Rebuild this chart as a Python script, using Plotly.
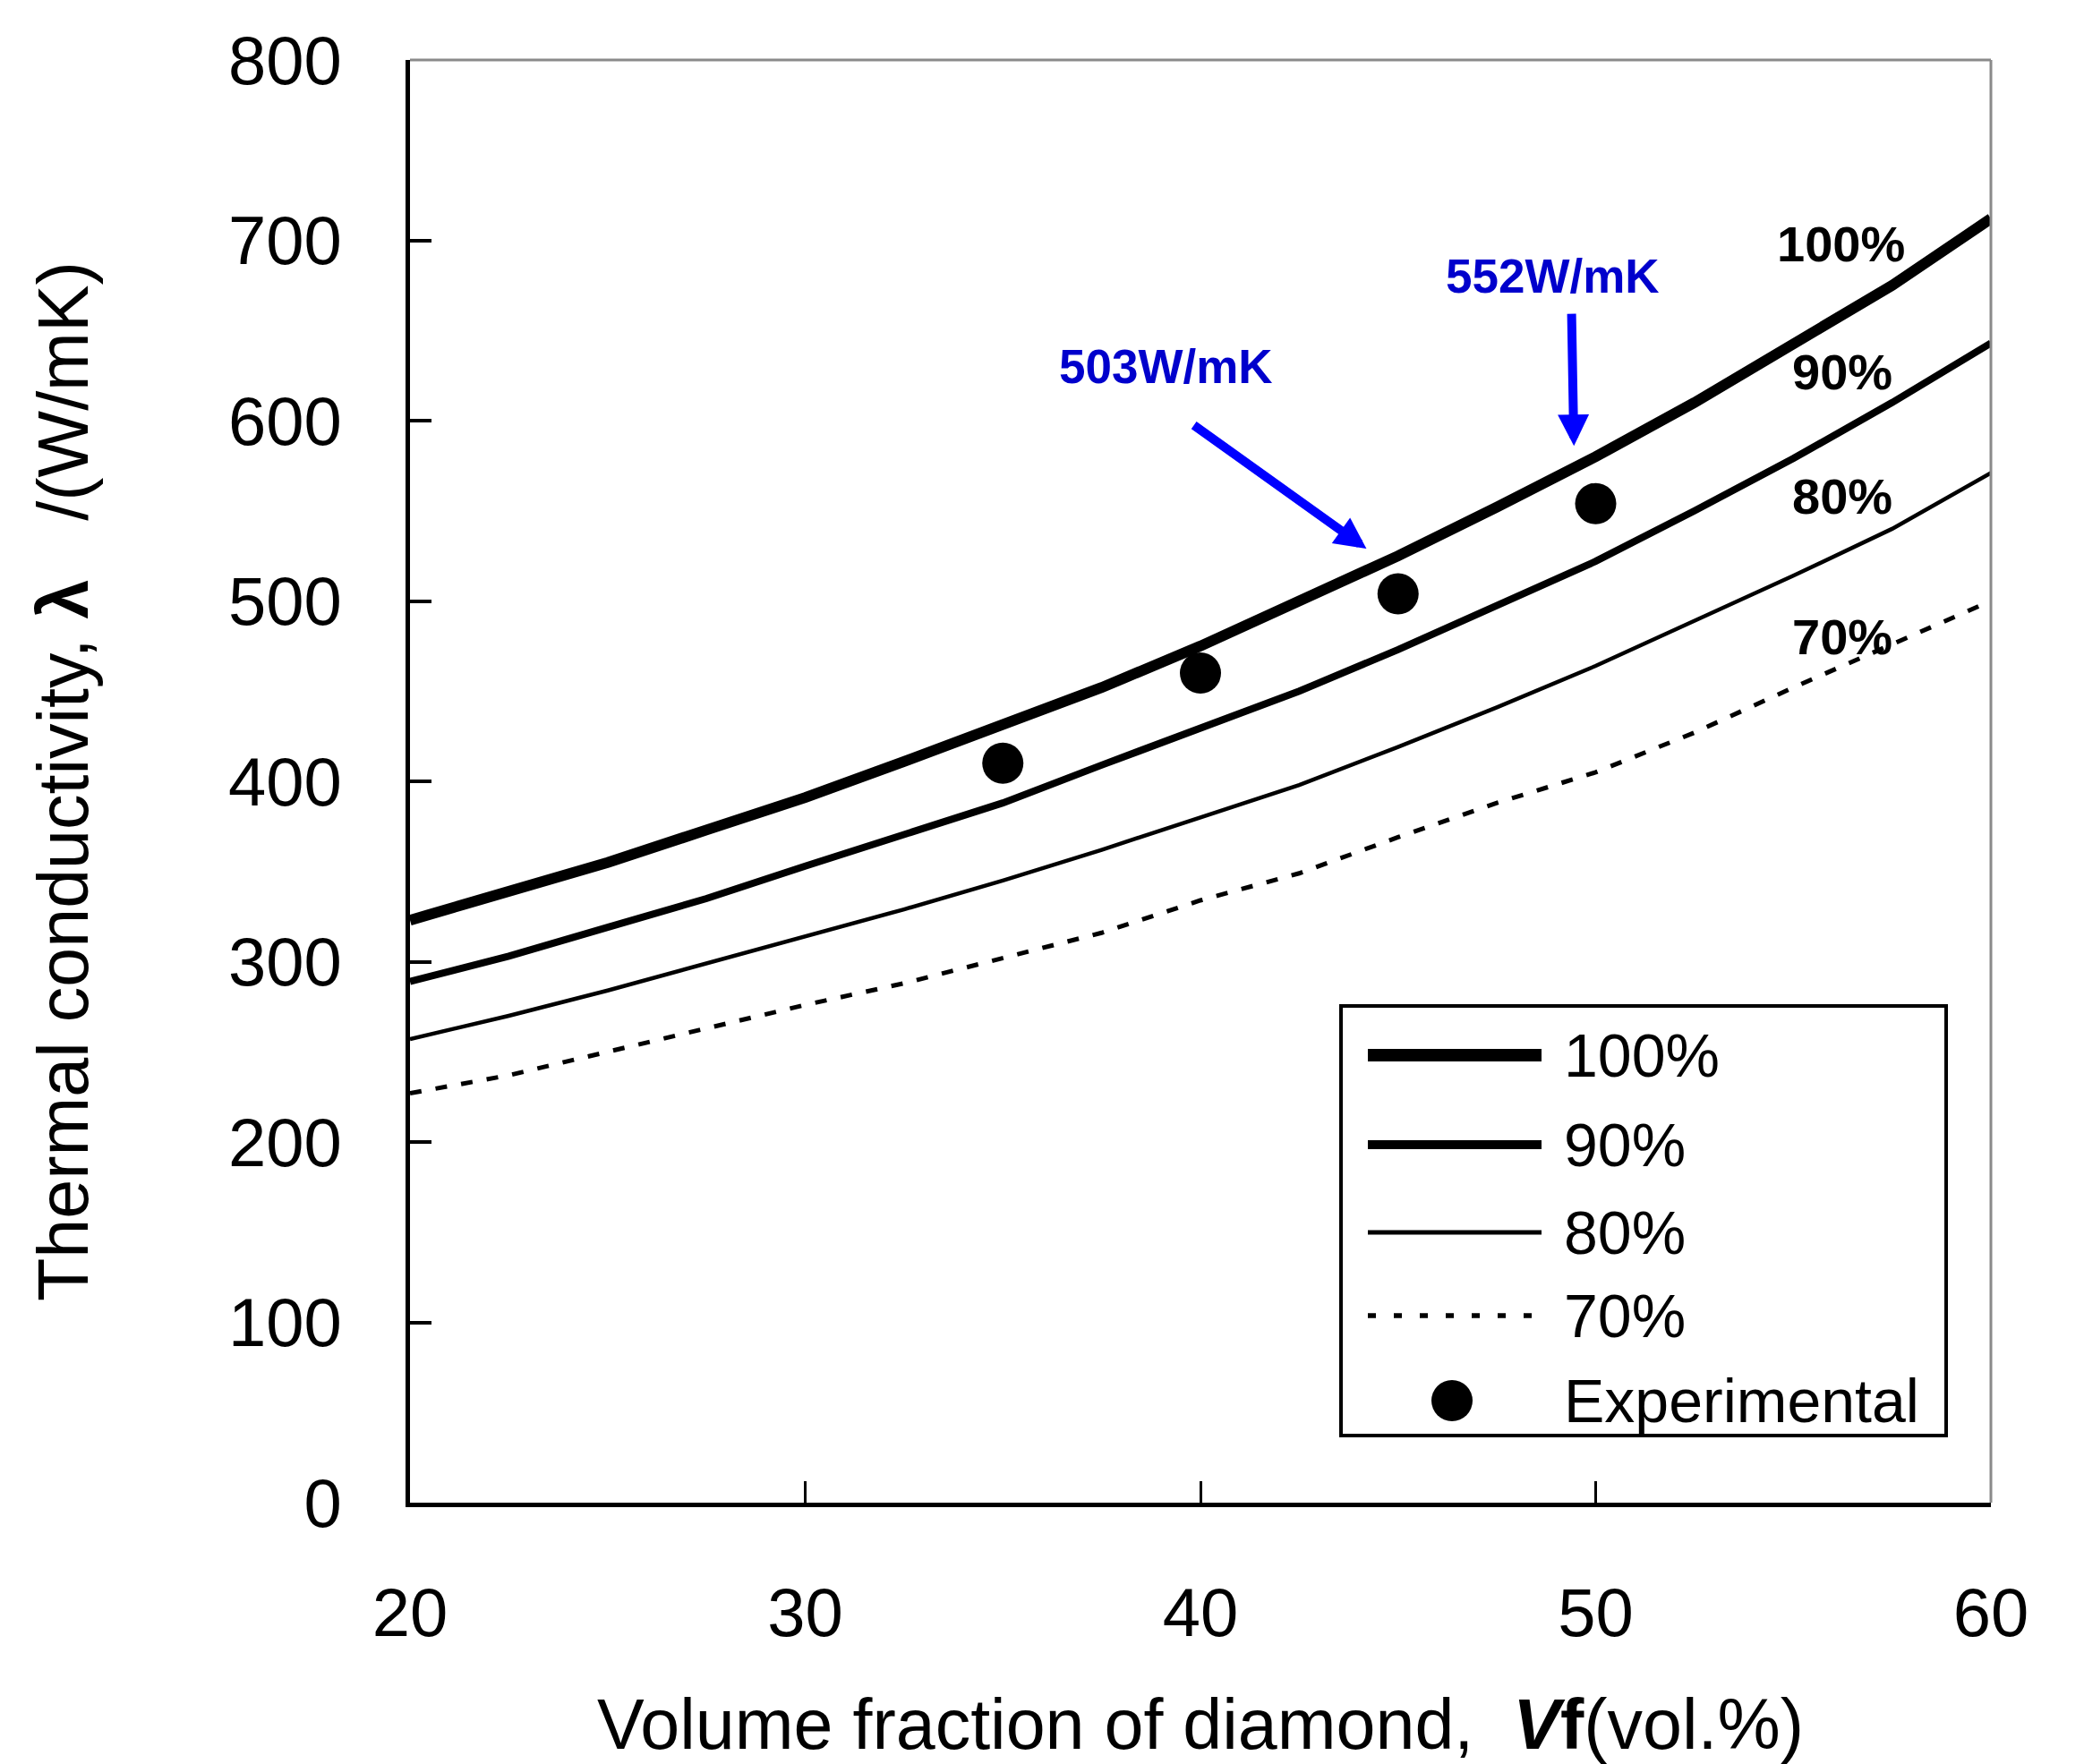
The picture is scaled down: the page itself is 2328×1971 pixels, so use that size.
import plotly.graph_objects as go

# ---------------- data ----------------
vf = [20, 22.5, 25, 27.5, 30, 32.5, 35, 37.5, 40, 42.5, 45, 47.5, 50, 52.5, 55, 57.5, 60]
k100 = [323, 339, 355, 373, 391, 411, 431, 452, 475, 500, 525, 552, 580, 610, 642, 675, 712]
k90 = [289, 303, 319, 335, 353, 370, 388, 409, 429, 450, 473, 498, 522, 550, 579, 610, 643]
k80 = [257, 270, 284, 299, 314, 329, 345, 362, 380, 398, 419, 441, 464, 489, 514, 540, 571]
k70 = [227, 237, 250, 263, 276, 288, 302, 316, 334, 349, 369, 388, 405, 427, 452, 476, 500]
exp_vf = [35, 40, 45, 50]
exp_k = [410, 460, 504, 554]

series_names = ["100%", "90%", "80%", "70%"]
x_ticks = [20, 30, 40, 50, 60]
y_ticks = [0, 100, 200, 300, 400, 500, 600, 700, 800]

# page body has an 8px margin; the figure is sized so it fits the window
OFF = 8
W, H = 2328 - OFF, 1971 - OFF
ML, MR, MT, MB = 458 - OFF, 104, 67 - OFF, 292
PW, PH = W - ML - MR, H - MT - MB
FONT = "Liberation Sans, Arial, sans-serif"


def px(x):
    """page pixel x -> paper fraction"""
    return (x - OFF - ML) / PW


def py(y):
    """page pixel y -> paper fraction"""
    return (H - MB - (y - OFF)) / PH


fig = go.Figure()
styles = [
    dict(width=12, dash="solid"),
    dict(width=8, dash="solid"),
    dict(width=4.5, dash="solid"),
    dict(width=5, dash="13px,16px"),
]
for name, ys, st in zip(series_names, [k100, k90, k80, k70], styles):
    fig.add_trace(go.Scatter(x=vf, y=ys, mode="lines", name=name,
                             line=dict(color="black", width=st["width"], dash=st["dash"]),
                             showlegend=False))
fig.add_trace(go.Scatter(x=exp_vf, y=exp_k, mode="markers", name="Experimental",
                         marker=dict(color="black", size=46), showlegend=False))

fig.update_layout(
    width=W, height=H,
    margin=dict(l=ML, r=MR, t=MT, b=MB, autoexpand=False),
    paper_bgcolor="white", plot_bgcolor="white",
    font=dict(family=FONT, color="black"),
    showlegend=False,
)
fig.update_xaxes(
    range=[20, 60], tickvals=x_ticks, showgrid=False, zeroline=False,
    showline=True, linecolor="black", linewidth=5, automargin=False,
    ticks="inside", ticklen=24, tickwidth=3, tickcolor="black",
    tickfont=dict(size=76, family=FONT), ticklabelstandoff=53,
    title=dict(text="Volume fraction of diamond,  <b><i>V</i>f</b>(vol.%)",
               font=dict(size=79, family=FONT), standoff=58),
)
fig.update_yaxes(
    range=[0, 800], tickvals=y_ticks, showgrid=False, zeroline=False,
    showline=True, linecolor="black", linewidth=5, automargin=False,
    ticks="inside", ticklen=24, tickwidth=4, tickcolor="black",
    tickfont=dict(size=76, family=FONT), ticklabelstandoff=56,
    title=dict(text="Thermal conductivity, <b>λ</b>   /(W/mK)",
               font=dict(size=79, family=FONT), standoff=132),
)

shapes = [
    dict(type="line", xref="paper", yref="paper", x0=0, x1=1, y0=1, y1=1,
         line=dict(color="#8a8a8a", width=3)),
    dict(type="line", xref="paper", yref="paper", x0=1, x1=1, y0=0, y1=1,
         line=dict(color="#8a8a8a", width=3)),
]

# ---------- legend (drawn manually) ----------
leg_rows = [1179, 1279, 1377, 1470, 1565]
leg_labels = series_names + ["Experimental"]
shapes.append(dict(type="rect", xref="paper", yref="paper",
                   x0=px(1498), x1=px(2174), y0=py(1124), y1=py(1604),
                   line=dict(color="black", width=4), fillcolor="white", layer="above"))
leg_styles = [
    dict(width=14, dash="solid"),
    dict(width=10, dash="solid"),
    dict(width=5, dash="solid"),
    dict(width=5.5, dash="9px,20px"),
]
for yy, st in zip(leg_rows[:4], leg_styles):
    shapes.append(dict(type="line", xref="paper", yref="paper",
                       x0=px(1528), x1=px(1722), y0=py(yy), y1=py(yy),
                       line=dict(color="black", width=st["width"], dash=st["dash"])))
shapes.append(dict(type="circle", xref="paper", yref="paper",
                   xsizemode="pixel", ysizemode="pixel",
                   xanchor=px(1622), yanchor=py(leg_rows[4]),
                   x0=-23, x1=23, y0=-23, y1=23,
                   fillcolor="black", line=dict(color="black", width=0)))

annotations = []
for yy, lab in zip(leg_rows, leg_labels):
    annotations.append(dict(x=px(1745), y=py(yy), xref="paper", yref="paper",
                            text=lab, showarrow=False, xanchor="left", yanchor="middle",
                            font=dict(size=68, family=FONT, color="black")))

# ---------- curve labels ----------
curve_label_pos = [(56.2, 698), (56.25, 627), (56.25, 558), (56.25, 480)]
for lab, (lx, ly) in zip(series_names, curve_label_pos):
    annotations.append(dict(x=lx, y=ly, xref="x", yref="y", text="<b>" + lab + "</b>",
                            showarrow=False, xanchor="center", yanchor="middle",
                            font=dict(size=56, family=FONT, color="black")))

# ---------- blue callouts ----------
annotations += [
    dict(x=39.12, y=630, xref="x", yref="y", text="<b>503W/mK</b>", showarrow=False,
         font=dict(size=53, family=FONT, color="#0000CC")),
    dict(x=48.91, y=680, xref="x", yref="y", text="<b>552W/mK</b>", showarrow=False,
         font=dict(size=53, family=FONT, color="#0000CC")),
    dict(x=44.2, y=529, ax=39.8, ay=598, xref="x", yref="y", axref="x", ayref="y",
         text="", showarrow=True, arrowhead=2, arrowsize=0.7, arrowwidth=10,
         arrowcolor="#0000FF"),
    dict(x=49.45, y=586, ax=49.39, ay=660, xref="x", yref="y", axref="x", ayref="y",
         text="", showarrow=True, arrowhead=2, arrowsize=0.7, arrowwidth=10,
         arrowcolor="#0000FF"),
]

fig.update_layout(shapes=shapes, annotations=annotations)
fig.write_html("out.html")
